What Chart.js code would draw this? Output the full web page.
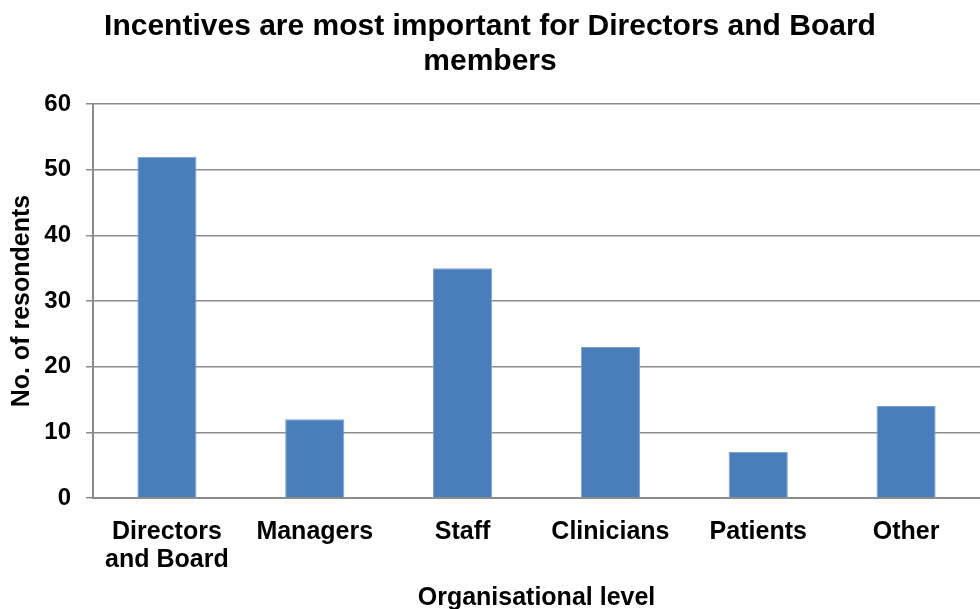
<!DOCTYPE html>
<html>
<head>
<meta charset="utf-8">
<script src="https://cdn.jsdelivr.net/npm/chart.js@4/dist/chart.umd.min.js"></script>
<style>
  html, body { margin: 0; padding: 0; background: #fff; }
  #wrap { width: 980px; height: 609px; }
</style>
</head>
<body>
<div id="wrap"><canvas id="myChart" width="980" height="609"></canvas></div>
<script>
//////////// Data ////////////////
const levels = [['Directors', 'and Board'], 'Managers', 'Staff', 'Clinicians', 'Patients', 'Other'];
const respondents = [52, 12, 35, 23, 7, 14];
const yTicks = [0, 10, 20, 30, 40, 50, 60];

const titleLines = ['Incentives are most important for Directors and Board', 'members'];
const xTitle = 'Organisational level';
const yTitle = 'No. of resondents';

const font = '"Liberation Sans", Arial, sans-serif';
const gridGrey = '#8c8c8c';

///////// Attach the chart to the canvas //////////
const ctx1 = document.getElementById('myChart').getContext('2d');

const config = {
  type: 'bar',
  data: {
    labels: levels,
    datasets: [{
      label: 'Respondents',
      data: respondents,
      backgroundColor: '#4a7ebb',
      borderColor: '#7ea3d3',
      borderWidth: 1,
      barPercentage: 0.4,
      categoryPercentage: 1
    }]
  },
  options: {
    responsive: false,
    animation: false,
    layout: { padding: { left: 0, right: 0, top: 0, bottom: 0 } },
    plugins: {
      legend: { display: false },
      tooltip: { enabled: false },
      title: {
        display: true,
        text: titleLines,
        color: '#000',
        font: { family: font, size: 30, weight: 'bold', lineHeight: 1.17 },
        padding: { top: 9, bottom: 25 }
      }
    },
    scales: {
      x: {
        grid: { display: false },
        border: { display: true, color: gridGrey, width: 2 },
        ticks: {
          color: '#000',
          padding: 12,
          maxRotation: 0,
          autoSkip: false,
          font: { family: font, size: 25, weight: 'bold', lineHeight: 1.12 }
        },
        title: {
          display: true,
          text: xTitle,
          color: '#000',
          font: { family: font, size: 25, weight: 'bold', lineHeight: 0.88 },
          padding: { top: 0, bottom: 0 }
        },
        afterFit(scale) { scale.height = 111; }
      },
      y: {
        min: 0,
        max: 60,
        afterBuildTicks(scale) { scale.ticks = yTicks.map(v => ({ value: v })); },
        grid: { color: gridGrey, lineWidth: 1.5, tickLength: 7, drawTicks: true },
        border: { display: true, color: gridGrey, width: 2 },
        ticks: {
          color: '#000',
          padding: 15,
          font: { family: font, size: 24, weight: 'bold' }
        },
        title: {
          display: true,
          text: yTitle,
          color: '#000',
          font: { family: font, size: 25, weight: 'bold', lineHeight: 1 },
          padding: { top: 10, bottom: 0 }
        },
        afterFit(scale) { scale.width = 93; }
      }
    }
  }
};

const chart1 = new Chart(ctx1, config);
</script>
</body>
</html>
